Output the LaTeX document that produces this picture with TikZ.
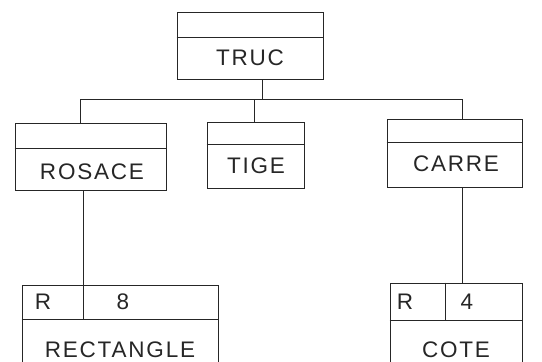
\documentclass[tikz,border=0pt]{standalone}
\usepackage{fontspec}
\setmainfont{Liberation Sans}[LetterSpace=8]
\begin{document}
\begin{tikzpicture}[x=1pt,y=-1pt,
  box/.style={draw=black!85, line width=0.8pt, rectangle, inner sep=0pt},
  wire/.style={draw=black!85, line width=0.8pt},
  lbl/.style={font=\fontsize{22.5}{24}\selectfont, text=black!85, inner sep=0pt}]
\useasboundingbox (0,0) rectangle (542,362);

% frames
\node[box, minimum width=146pt, minimum height=67pt] (truc) at (250,45.5) {};
\node[box, minimum width=151pt, minimum height=67pt] (rosace) at (90.5,156.5) {};
\node[box, minimum width=97pt, minimum height=66pt] (tige) at (255.5,155) {};
\node[box, minimum width=135pt, minimum height=68pt] (carre) at (454.5,153) {};
\node[box, minimum width=196pt, minimum height=95pt] (rect) at (120,332.5) {};
\node[box, minimum width=132pt, minimum height=97pt] (cote) at (456,331.5) {};

% dividers
\draw[wire] (truc.west |- 0,37) -- (truc.east |- 0,37);
\draw[wire] (rosace.west |- 0,148) -- (rosace.east |- 0,148);
\draw[wire] (tige.west |- 0,144) -- (tige.east |- 0,144);
\draw[wire] (carre.west |- 0,142) -- (carre.east |- 0,142);
\draw[wire] (rect.west |- 0,319) -- (rect.east |- 0,319);
\draw[wire] (rect.north -| 83,0) -- (83,319);
\draw[wire] (cote.west |- 0,320) -- (cote.east |- 0,320);
\draw[wire] (cote.north -| 445,0) -- (445,320);

% labels
\node[lbl] (ttruc) at (250,58) {TRUC};
\node[lbl] (trosace) at (92,172) {ROSACE};
\node[lbl] (ttige) at (256,166) {TIGE};
\node[lbl] (tcarre) at (456,164) {CARRE};
\node[lbl] (tr1) at (43,302) {R};
\node[lbl] (t8) at (123,302) {8};
\node[lbl] (trect) at (120,350) {RECTANGLE};
\node[lbl] (tr2) at (405,302) {R};
\node[lbl] (t4) at (467,302) {4};
\node[lbl] (tcote) at (456,350) {COTE};

% tree connectors
\coordinate (busL) at (80,99);
\coordinate (busR) at (462,99);
\draw[wire] (busL) -- (busR);
\draw[wire] (truc.south -| 262,0) -- (busL -| 262,0);
\draw[wire] (busL) -- (rosace.north -| busL);
\draw[wire] (busL -| 254,0) -- (tige.north -| 254,0);
\draw[wire] (busR) -- (carre.north -| busR);
\draw[wire] (rosace.south -| 83,0) -- (rect.north -| 83,0);
\draw[wire] (carre.south -| busR) -- (cote.north -| busR);
\end{tikzpicture}
\end{document}
